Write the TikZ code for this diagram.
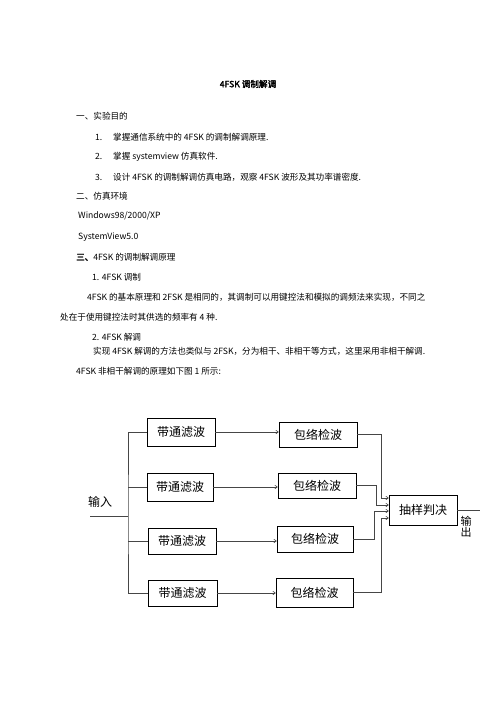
\documentclass[tikz,border=0pt]{standalone}
\usepackage{fontspec}
\setmainfont{Noto Sans CJK SC}[AutoFakeBold=2.5]
\usetikzlibrary{arrows.meta,positioning,calc}
\definecolor{lnblack}{RGB}{70,70,70}
\tikzset{
  bodytext/.style={anchor=west, inner sep=0pt, font=\fontsize{8.6}{10}\selectfont},
  blockbox/.style={draw, line width=0.7pt, font=\fontsize{12}{12}\selectfont,
                   minimum width=#1, minimum height=27pt, inner sep=0pt},
  sigline/.style={draw=lnblack, line width=0.6pt},
  sigarrow/.style={sigline, -{To[length=3pt,width=4pt]}},
}

\begin{document}
\begin{tikzpicture}[x=1pt, y=-1pt]
\useasboundingbox (0,0) rectangle (496,702);

% Text of the page
\node[inner sep=0pt, font=\fontsize{8.6}{10}\selectfont\bfseries] (title) at (248,84) {4FSK 调制解调};
\node[bodytext] (h1) at (76,116) {一、实验目的};
\node[bodytext] (h1a) at (95,137) {\makebox[18pt][l]{1.}掌握通信系统中的 4FSK 的调制解调原理.};
\node[bodytext] (h1b) at (95,157) {\makebox[18pt][l]{2.}掌握 systemview 仿真软件.};
\node[bodytext] (h1c) at (95,177) {\makebox[18pt][l]{3.}设计 4FSK 的调制解调仿真电路，观察 4FSK 波形及其功率谱密度.};
\node[bodytext] (h2) at (76,196) {二、仿真环境};
\node[bodytext] (h2a) at (78,216) {Windows98/2000/XP};
\node[bodytext] (h2b) at (78,237) {SystemView5.0};
\node[bodytext] (h3) at (76,257) {\textbf{三、}4FSK 的调制解调原理};
\node[bodytext] (h3a) at (92,277) {1. 4FSK 调制};
\node[bodytext] (p1) at (87,297) {4FSK 的基本原理和 2FSK 是相同的，其调制可以用键控法和模拟的调频法来实现，不同之};
\node[bodytext] (p1b) at (60,317) {处在于使用键控法时其供选的频率有 4 种.};
\node[bodytext] (h3b) at (92,337) {2. 4FSK 解调};
\node[bodytext] (p2) at (93,351) {实现 4FSK 解调的方法也类似与 2FSK，分为相干、非相干等方式，这里采用非相干解调.};
\node[bodytext] (p2b) at (76,371) {4FSK 非相干解调的原理如下图 1 所示:};

% Band-pass filters
\node[blockbox=68pt, minimum height=28pt] (bpfA) at (181,432) {带通滤波};
\node[blockbox=66pt, minimum height=28pt] (bpfB) at (180,487) {带通滤波};
\node[blockbox=68pt, minimum height=26pt] (bpfC) at (182,541) {带通滤波};
\node[blockbox=69pt, minimum height=26pt] (bpfD) at (182.5,593) {带通滤波};

% Envelope detectors
\node[blockbox=78pt, minimum height=25pt] (envA) at (318,434.5) {包络检波};
\node[blockbox=78pt, minimum height=25pt] (envB) at (317,485.5) {包络检波};
\node[blockbox=76pt, minimum height=26pt] (envC) at (315,539) {包络检波};
\node[blockbox=77pt, minimum height=29pt] (envD) at (314.5,592.5) {包络检波};

% Sample and decide
\node[blockbox=68pt, minimum height=30pt] (dec) at (423,510) {抽样判决};

% Input bus
\coordinate (inp) at (90,516);
\coordinate (bus) at (128,516);
\node[inner sep=0pt, font=\fontsize{12}{12}\selectfont] (inlabel) at (100,502) {输入};
\draw[sigline] (inp) -- (bus);
\draw[sigline] (bpfA.west) -| (bus) |- (bpfD.west);
\draw[sigline] (bpfB.west) -- (bpfB.west -| bus);
\draw[sigline] (bpfC.west) -- (bpfC.west -| bus);

% Filters to detectors
\foreach \k in {A,B,C,D}
  \draw[sigarrow] (bpf\k.east) -- (bpf\k.east -| env\k.west);

% Detectors to decision
\draw[sigarrow] (envA.east) -- ++(24,0) |- ($(dec.west)+(0,-12)$);
\draw[sigarrow] (envB.east) -- ++(20,0) |- ($(dec.west)+(0,-5)$);
\draw[sigarrow] (envC.east) -- ++(21,0) |- ($(dec.west)+(0,1)$);
\draw[sigarrow] (envD.east) -- ++(28,0) |- ($(dec.west)+(0,8)$);

% Output
\coordinate (outp) at ($(dec.east)+(23,0)$);
\draw[sigline] (dec.east) -- (outp);
\node[inner sep=0pt, align=center, font=\fontsize{11}{11}\selectfont] (outlabel) at (466,527) {输\\出};

\end{tikzpicture}
\end{document}
